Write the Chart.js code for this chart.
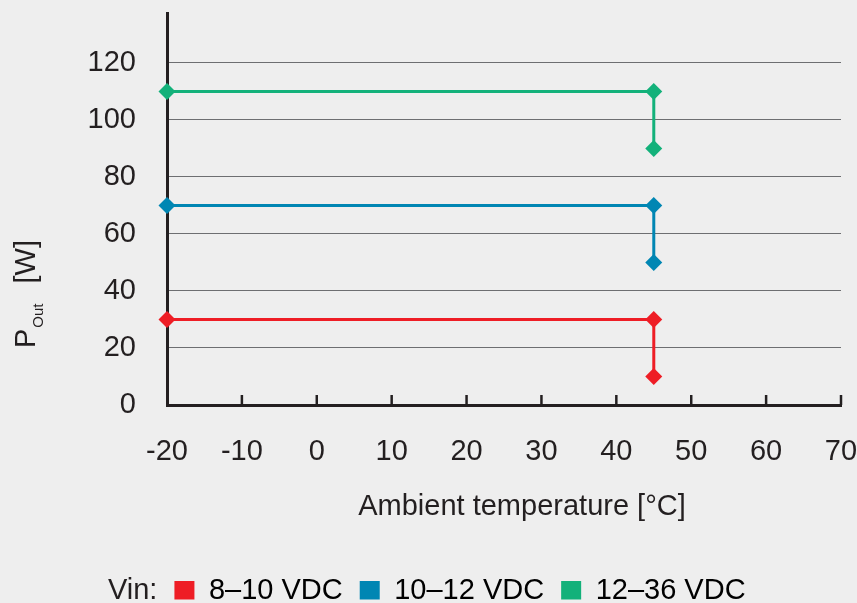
<!DOCTYPE html>
<html><head><meta charset="utf-8">
<script src="https://cdn.jsdelivr.net/npm/chart.js@4.4.0/dist/chart.umd.min.js"></script>
<style>html,body{margin:0;padding:0;background:#eeeeee;}canvas{display:block;}</style>
</head><body>
<canvas id="c" width="857" height="603"></canvas>
<script>
const temperatures = [-20, 45, 45];
const power8to10 = [30, 30, 10];
const power10to12 = [70, 70, 50];
const power12to36 = [110, 110, 90];
const seriesLabels = ['8–10 VDC', '10–12 VDC', '12–36 VDC'];
const seriesColors = ['#ee1d25', '#0086b3', '#13b17a'];
const xTickValues = [-20, -10, 0, 10, 20, 30, 40, 50, 60, 70];
const yTickValues = [0, 20, 40, 60, 80, 100, 120];
const xTitle = 'Ambient temperature [°C]';
const yTitleMain = 'P', yTitleSub = 'Out', yTitleUnit = '[W]';
const legendPrefix = 'Vin:';

const FONT = "'Liberation Sans', Arial, Helvetica, sans-serif";
const TEXT = '#231f20';
const PAD = {left: 79, right: 16, top: 13, bottom: 3.5};
const PLOT_LEFT = 167;
const PLOT_BOTTOM = 405;

const seriesValues = [power8to10, power10to12, power12to36];
const datasets = seriesValues.map((vals, i) => ({
  label: seriesLabels[i],
  data: temperatures.map((t, j) => ({x: t, y: vals[j]})),
  borderColor: seriesColors[i],
  backgroundColor: seriesColors[i],
  pointBackgroundColor: seriesColors[i],
  pointBorderWidth: 0,
  pointRadius: 8.5,
  pointHoverRadius: 8.5,
  pointStyle: 'rectRot',
  borderWidth: 3,
  showLine: true,
  tension: 0,
  clip: false
}));

const decor = {
  id: 'decor',
  beforeDraw(chart) {
    const c = chart.ctx;
    c.save();
    c.fillStyle = '#eeeeee';
    c.fillRect(0, 0, chart.width, chart.height);
    c.restore();
  },
  afterDraw(chart) {
    const c = chart.ctx;
    const xs = chart.scales.x, ca = chart.chartArea;
    c.save();
    // inward tick marks on x axis
    c.strokeStyle = TEXT;
    c.lineWidth = 2.5;
    xTickValues.slice(1).forEach(v => {
      const px = xs.getPixelForValue(v);
      c.beginPath();
      c.moveTo(px, ca.bottom);
      c.lineTo(px, ca.bottom - 10);
      c.stroke();
    });
    c.fillStyle = TEXT;
    // x title
    c.font = '29px ' + FONT;
    c.textAlign = 'center';
    c.textBaseline = 'alphabetic';
    c.fillText(xTitle, 522, 515);
    // y title with subscript
    c.save();
    c.translate(35, 348);
    c.rotate(-Math.PI / 2);
    c.textAlign = 'left';
    c.font = '29px ' + FONT;
    c.fillText(yTitleMain, 0, 0);
    const wP = c.measureText(yTitleMain).width;
    c.font = '15px ' + FONT;
    c.fillText(yTitleSub, wP + 1, 8);
    const wS = c.measureText(yTitleSub).width;
    c.font = '29px ' + FONT;
    c.fillText(yTitleUnit, wP + 1 + wS + 20, 0);
    c.restore();
    // legend prefix
    const hb = chart.legend.legendHitBoxes[0];
    if (hb) {
      c.font = '29px ' + FONT;
      c.textAlign = 'right';
      c.textBaseline = 'middle';
      c.fillText(legendPrefix, hb.left - 17, hb.top + hb.height / 2);
    }
    c.restore();
  }
};

new Chart(document.getElementById('c'), {
  type: 'scatter',
  data: {datasets},
  plugins: [decor],
  options: {
    responsive: false,
    animation: false,
    devicePixelRatio: 1,
    layout: {padding: PAD},
    plugins: {
      tooltip: {enabled: false},
      legend: {
        display: true,
        position: 'bottom',
        align: 'center',
        maxHeight: 40,
        labels: {
          font: {family: FONT, size: 29},
          color: TEXT,
          boxWidth: 20,
          boxHeight: 20,
          padding: 17,
          generateLabels: (chart) => chart.data.datasets.map((d, i) => ({
            text: d.label, fillStyle: seriesColors[i], strokeStyle: seriesColors[i],
            lineWidth: 0, datasetIndex: i, hidden: false
          }))
        }
      }
    },
    scales: {
      x: {
        type: 'linear',
        min: -20, max: 70,
        afterBuildTicks: (s) => { s.ticks = xTickValues.map(v => ({value: v})); },
        afterFit: (s) => {
          s.height = s.chart.height - PAD.bottom - s.chart.legend.height - PLOT_BOTTOM;
          s.paddingLeft = 0; s.paddingRight = 0; s.paddingTop = 0; s.paddingBottom = 0;
        },
        grid: {display: true, drawOnChartArea: false, drawTicks: false},
        border: {display: true, color: TEXT, width: 3},
        ticks: {font: {family: FONT, size: 29}, color: TEXT, padding: 30, maxRotation: 0, autoSkip: false,
          callback: (v) => String(v)}
      },
      y: {
        type: 'linear',
        min: 0, max: 137.5,
        afterBuildTicks: (s) => { s.ticks = yTickValues.map(v => ({value: v})); },
        afterFit: (s) => {
          s.width = PLOT_LEFT - PAD.left;
          s.paddingLeft = 0; s.paddingRight = 0; s.paddingTop = 0; s.paddingBottom = 0;
        },
        grid: {
          drawTicks: false,
          color: (ctx) => ctx.tick && ctx.tick.value === 0 ? 'rgba(0,0,0,0)' : '#6d6e71',
          lineWidth: 1
        },
        border: {display: true, color: TEXT, width: 3},
        ticks: {font: {family: FONT, size: 29}, color: TEXT, padding: 31, autoSkip: false,
          callback: (v) => String(v)}
      }
    }
  }
});
</script>
</body></html>
